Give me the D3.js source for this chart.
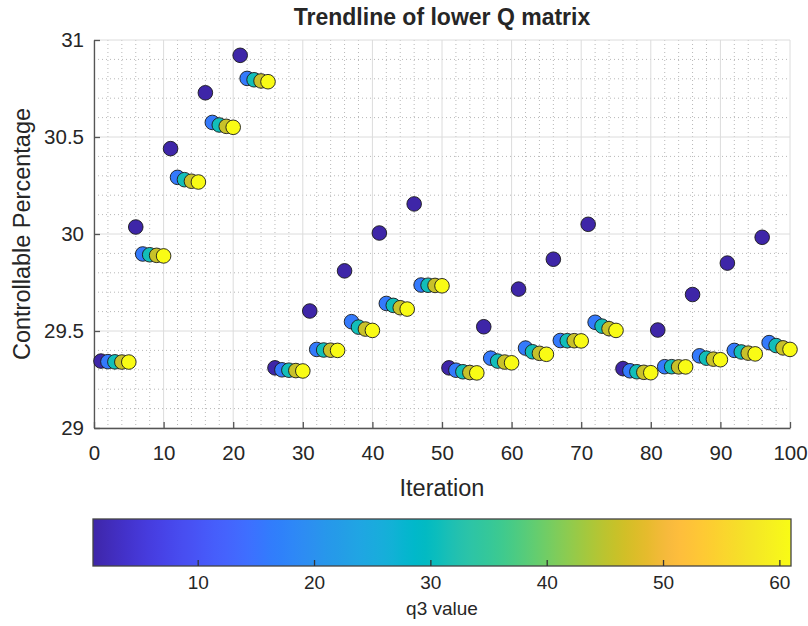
<!DOCTYPE html>
<html>
<head>
<meta charset="utf-8">
<script src="https://cdn.jsdelivr.net/npm/d3@7"></script>
<style>
  body { margin: 0; background: #fff; }
  text { font-family: "Liberation Sans", Arial, sans-serif; fill: #262626; }
</style>
</head>
<body>
<svg id="chart" width="808" height="626"></svg>
<script>
// Controllable percentage per iteration (five q3 settings per block)
const percentage = [
  29.345, 29.342, 29.341, 29.340, 29.340,
  30.036, 29.897, 29.893, 29.890, 29.887,
  30.440, 30.292, 30.280, 30.272, 30.268,
  30.728, 30.575, 30.562, 30.555, 30.550,
  30.921, 30.802, 30.795, 30.789, 30.785,
  29.310, 29.300, 29.298, 29.296, 29.294,
  29.603, 29.405, 29.402, 29.401, 29.400,
  29.810, 29.548, 29.520, 29.510, 29.503,
  30.005, 29.642, 29.632, 29.620, 29.613,
  30.155, 29.737, 29.736, 29.735, 29.733,
  29.310, 29.298, 29.290, 29.286, 29.284,
  29.522, 29.360, 29.345, 29.340, 29.336,
  29.716, 29.412, 29.393, 29.385, 29.380,
  29.870, 29.451, 29.450, 29.450, 29.449,
  30.050, 29.545, 29.525, 29.512, 29.503,
  29.306, 29.295, 29.290, 29.287, 29.285,
  29.505, 29.316, 29.316, 29.315, 29.315,
  29.688, 29.372, 29.360, 29.355, 29.352,
  29.850, 29.400, 29.392, 29.386, 29.382,
  29.983, 29.440, 29.425, 29.413, 29.405
];

// q3 value used at each iteration
const q3 = [
  1, 16, 31, 46, 61,   1, 16, 31, 46, 61,   1, 16, 31, 46, 61,   1, 16, 31, 46, 61,
  1, 16, 31, 46, 61,   1, 16, 31, 46, 61,   1, 16, 31, 46, 61,   1, 16, 31, 46, 61,
  1, 16, 31, 46, 61,   1, 16, 31, 46, 61,   1, 16, 31, 46, 61,   1, 16, 31, 46, 61,
  1, 16, 31, 46, 61,   1, 16, 31, 46, 61,   1, 16, 31, 46, 61,   1, 16, 31, 46, 61,
  1, 16, 31, 46, 61,   1, 16, 31, 46, 61,   1, 16, 31, 46, 61,   1, 16, 31, 46, 61
];

const iteration = percentage.map((_, i) => i + 1);

const xTicks = [0, 10, 20, 30, 40, 50, 60, 70, 80, 90, 100];
const yTicks = [29, 29.5, 30, 30.5, 31];
const cbTicks = [10, 20, 30, 40, 50, 60];
const q3Range = [1, 61];

const titleText = "Trendline of lower Q matrix";
const xLabel = "Iteration";
const yLabel = "Controllable Percentage";
const cbLabel = "q3 value";

// parula colormap (64 entries)
const parula = [
  [0.2422,0.1504,0.6603],[0.2504,0.1650,0.7076],[0.2578,0.1818,0.7511],[0.2647,0.1978,0.7952],
  [0.2706,0.2147,0.8364],[0.2751,0.2342,0.8710],[0.2783,0.2559,0.8991],[0.2803,0.2782,0.9221],
  [0.2813,0.3006,0.9414],[0.2810,0.3228,0.9579],[0.2795,0.3447,0.9717],[0.2760,0.3667,0.9829],
  [0.2699,0.3892,0.9906],[0.2602,0.4123,0.9952],[0.2440,0.4358,0.9988],[0.2206,0.4603,0.9973],
  [0.1963,0.4847,0.9892],[0.1834,0.5074,0.9798],[0.1786,0.5289,0.9682],[0.1764,0.5499,0.9520],
  [0.1687,0.5703,0.9359],[0.1540,0.5902,0.9218],[0.1460,0.6091,0.9079],[0.1380,0.6276,0.8973],
  [0.1248,0.6459,0.8883],[0.1113,0.6635,0.8763],[0.0952,0.6798,0.8598],[0.0689,0.6948,0.8394],
  [0.0297,0.7082,0.8163],[0.0036,0.7203,0.7917],[0.0067,0.7312,0.7660],[0.0433,0.7411,0.7394],
  [0.0964,0.7500,0.7120],[0.1408,0.7584,0.6842],[0.1717,0.7670,0.6554],[0.1938,0.7758,0.6251],
  [0.2161,0.7843,0.5923],[0.2470,0.7918,0.5567],[0.2906,0.7973,0.5188],[0.3406,0.8008,0.4789],
  [0.3909,0.8029,0.4354],[0.4456,0.8024,0.3909],[0.5044,0.7993,0.3480],[0.5616,0.7942,0.3045],
  [0.6174,0.7876,0.2612],[0.6720,0.7793,0.2227],[0.7242,0.7698,0.1910],[0.7738,0.7598,0.1646],
  [0.8203,0.7498,0.1535],[0.8634,0.7406,0.1596],[0.9035,0.7330,0.1774],[0.9393,0.7288,0.2100],
  [0.9728,0.7298,0.2394],[0.9956,0.7434,0.2371],[0.9970,0.7659,0.2199],[0.9952,0.7893,0.2028],
  [0.9892,0.8136,0.1885],[0.9786,0.8386,0.1766],[0.9676,0.8639,0.1643],[0.9610,0.8890,0.1537],
  [0.9597,0.9135,0.1423],[0.9628,0.9373,0.1265],[0.9691,0.9606,0.1064],[0.9769,0.9839,0.0805]
].map(c => d3.rgb(c[0] * 255, c[1] * 255, c[2] * 255).formatHex());

const parulaInterp = d3.interpolateRgbBasis(parula);
const color = d3.scaleSequential(parulaInterp).domain(q3Range);

const svg = d3.select("#chart");
const W = 808, H = 626;
svg.append("rect").attr("width", W).attr("height", H).attr("fill", "#fff");

const plot = { left: 94, right: 790, top: 40, bottom: 428 };
const x = d3.scaleLinear().domain([0, 100]).range([plot.left, plot.right]);
const y = d3.scaleLinear().domain([29, 31]).range([plot.bottom, plot.top]);

// minor grid (dotted)
const g = svg.append("g");
const xMinor = d3.range(0, 101, 2).filter(v => v % 10 !== 0);
const yMinor = d3.range(29, 31.0001, 0.1).map(v => +v.toFixed(1)).filter(v => Math.abs(v * 2 - Math.round(v * 2)) > 1e-6);
g.selectAll(".xminor").data(xMinor).join("line")
  .attr("x1", d => x(d)).attr("x2", d => x(d))
  .attr("y1", plot.top).attr("y2", plot.bottom)
  .attr("stroke", "#b8b8b8").attr("stroke-width", 1).attr("stroke-dasharray", "1,3");
g.selectAll(".yminor").data(yMinor).join("line")
  .attr("x1", plot.left).attr("x2", plot.right)
  .attr("y1", d => y(d)).attr("y2", d => y(d))
  .attr("stroke", "#b8b8b8").attr("stroke-width", 1).attr("stroke-dasharray", "1,3");

// major grid
g.selectAll(".xmajor").data(xTicks).join("line")
  .attr("x1", d => x(d)).attr("x2", d => x(d))
  .attr("y1", plot.top).attr("y2", plot.bottom)
  .attr("stroke", "#dcdcdc").attr("stroke-width", 1);
g.selectAll(".ymajor").data(yTicks).join("line")
  .attr("x1", plot.left).attr("x2", plot.right)
  .attr("y1", d => y(d)).attr("y2", d => y(d))
  .attr("stroke", "#dcdcdc").attr("stroke-width", 1);

// axes (ticks point inward)
const xAxis = svg.append("g").attr("transform", `translate(0,${plot.bottom})`)
  .call(d3.axisBottom(x).tickValues(xTicks).tickSizeInner(-6).tickSizeOuter(0).tickPadding(17).tickFormat(d3.format("d")));
const yAxis = svg.append("g").attr("transform", `translate(${plot.left},0)`)
  .call(d3.axisLeft(y).tickValues(yTicks).tickSizeInner(-6).tickSizeOuter(0).tickPadding(10).tickFormat(d3.format("~g")));
[xAxis, yAxis].forEach(a => {
  a.select(".domain").attr("stroke", "#555").attr("stroke-width", 1.3);
  a.selectAll(".tick line").attr("stroke", "#555").attr("stroke-width", 1.3);
  a.selectAll(".tick text").attr("font-size", 20.5).attr("fill", "#262626")
    .attr("font-family", "Liberation Sans, Arial, sans-serif");
});

// scatter points
svg.append("g").selectAll("circle")
  .data(iteration.map((it, i) => ({ it, v: percentage[i], q: q3[i] })))
  .join("circle")
  .attr("cx", d => x(d.it))
  .attr("cy", d => y(d.v))
  .attr("r", 7.3)
  .attr("fill", d => color(d.q))
  .attr("stroke", "#1a1a1a")
  .attr("stroke-width", 0.9);

// title and axis labels
svg.append("text").attr("x", (plot.left + plot.right) / 2).attr("y", 25)
  .attr("text-anchor", "middle").attr("font-weight", "bold").attr("font-size", 23)
  .text(titleText);
svg.append("text").attr("x", (plot.left + plot.right) / 2).attr("y", 496)
  .attr("text-anchor", "middle").attr("font-size", 23.5)
  .text(xLabel);
svg.append("text").attr("transform", `translate(30,${(plot.top + plot.bottom) / 2}) rotate(-90)`)
  .attr("text-anchor", "middle").attr("font-size", 23.5)
  .text(yLabel);

// colorbar
const cb = { left: 93, right: 791, top: 519, bottom: 566 };
const cx = d3.scaleLinear().domain(q3Range).range([cb.left, cb.right]);
const defs = svg.append("defs");
const grad = defs.append("linearGradient").attr("id", "parula-grad")
  .attr("x1", "0%").attr("x2", "100%").attr("y1", "0%").attr("y2", "0%");
grad.selectAll("stop").data(parula).join("stop")
  .attr("offset", (d, i) => (i / (parula.length - 1)) * 100 + "%")
  .attr("stop-color", d => d);
svg.append("rect")
  .attr("x", cb.left).attr("y", cb.top)
  .attr("width", cb.right - cb.left).attr("height", cb.bottom - cb.top)
  .attr("fill", "url(#parula-grad)")
  .attr("stroke", "#444").attr("stroke-width", 1.3);
const cbAxis = svg.append("g").attr("transform", `translate(0,${cb.bottom})`)
  .call(d3.axisBottom(cx).tickValues(cbTicks).tickSizeInner(-6).tickSizeOuter(0).tickPadding(10));
cbAxis.select(".domain").remove();
cbAxis.selectAll(".tick line").attr("stroke", "#333").attr("stroke-width", 1.3);
cbAxis.selectAll(".tick text").attr("font-size", 19).attr("fill", "#262626")
  .attr("font-family", "Liberation Sans, Arial, sans-serif");
svg.append("text").attr("x", (cb.left + cb.right) / 2).attr("y", 615)
  .attr("text-anchor", "middle").attr("font-size", 19)
  .text(cbLabel);
</script>
</body>
</html>
